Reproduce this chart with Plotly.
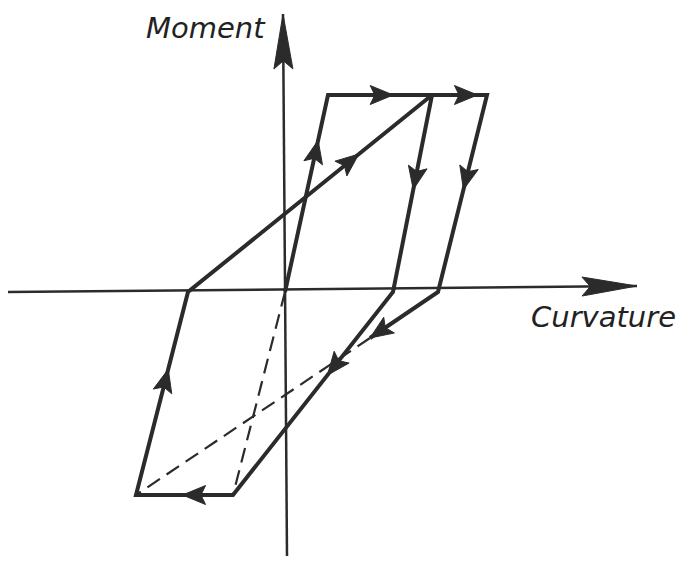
import numpy as np
import plotly.graph_objects as go

INK = "#2b2b2b"

# Loading branch: origin -> yield -> plastic plateau -> unload -> partial reversal
upper_kappa = [0.00, 0.43, 2.02, 1.53, 0.85]
upper_moment = [0.00, 1.97, 1.97, 0.00, -0.46]

# Full reversed cycle starting from the intermediate unloading point
lower_kappa = [1.47, 1.08, -0.52, -1.49, -0.97, 1.47]
lower_moment = [1.97, 0.00, -2.03, -2.03, 0.00, 1.97]

# Dashed guide paths
dash_a_kappa = [0.85, -1.49]
dash_a_moment = [-0.46, -2.03]
dash_b_kappa = [0.00, -0.52]
dash_b_moment = [0.00, -2.03]

# Direction arrows: (segment index, fraction along segment where the tip sits)
upper_arrows = [(0, 0.77), (1, 0.41), (1, 0.94), (2, 0.48), (3, 1.00)]
lower_arrows = [(0, 0.48), (1, 0.41), (2, 0.52), (3, 0.62), (4, 0.70)]

# Coordinate axes (slightly hand-drawn tilt)
haxis_kappa = [-2.77, 3.52]
haxis_moment = [0.00, 0.06]
vaxis_kappa = [0.02, -0.02]
vaxis_moment = [-2.64, 2.78]


def dart(tip, direction, length, width, notch_frac=0.8):
    d = np.asarray(direction, float)
    d = d / np.hypot(*d)
    n = np.array([-d[1], d[0]])
    tip = np.asarray(tip, float)
    base = tip - length * d
    notch = tip - notch_frac * length * d
    pts = [tip, base + n * width / 2, notch, base - n * width / 2, tip]
    xs, ys = zip(*pts)
    return list(xs), list(ys)


def arrow_on(kx, my, seg, t):
    p0 = np.array([kx[seg], my[seg]])
    p1 = np.array([kx[seg + 1], my[seg + 1]])
    tip = p0 + t * (p1 - p0)
    return dart(tip, p1 - p0, 0.23, 0.19)


fig = go.Figure()


def line(xs, ys, width, dash="solid"):
    fig.add_trace(go.Scatter(x=xs, y=ys, mode="lines",
                             line=dict(color=INK, width=width, dash=dash),
                             hoverinfo="skip", showlegend=False))


def poly(xs, ys):
    fig.add_trace(go.Scatter(x=xs, y=ys, mode="lines", fill="toself",
                             fillcolor=INK, line=dict(color=INK, width=1),
                             hoverinfo="skip", showlegend=False))


# axes
line(haxis_kappa, haxis_moment, 2.5)
line(vaxis_kappa, vaxis_moment, 2.5)
poly(*dart((haxis_kappa[1], haxis_moment[1]),
           (haxis_kappa[1] - haxis_kappa[0], haxis_moment[1] - haxis_moment[0]),
           0.55, 0.19, 0.85))
poly(*dart((vaxis_kappa[1], vaxis_moment[1]),
           (vaxis_kappa[1] - vaxis_kappa[0], vaxis_moment[1] - vaxis_moment[0]),
           0.55, 0.19, 0.85))

# dashed guides
line(dash_a_kappa, dash_a_moment, 2.2, dash="15px,8px")
line(dash_b_kappa, dash_b_moment, 2.2, dash="15px,8px")

# hysteresis branches
line(upper_kappa, upper_moment, 4)
line(lower_kappa, lower_moment, 4)

for seg, t in upper_arrows:
    poly(*arrow_on(upper_kappa, upper_moment, seg, t))
for seg, t in lower_arrows:
    poly(*arrow_on(lower_kappa, lower_moment, seg, t))

label_font = dict(family="DejaVu Sans", size=29, color="#222222")
fig.add_annotation(x=-0.79, y=2.64, text="<i>Moment</i>", showarrow=False,
                   font=label_font, xanchor="center", yanchor="middle")
fig.add_annotation(x=3.18, y=-0.25, text="<i>Curvature</i>", showarrow=False,
                   font=label_font, xanchor="center", yanchor="middle")

fig.update_layout(
    width=693, height=561, autosize=False,
    margin=dict(l=0, r=0, t=0, b=0),
    paper_bgcolor="white", plot_bgcolor="white",
    xaxis=dict(range=[-2.85, 4.08], visible=False, fixedrange=True),
    yaxis=dict(range=[-2.69, 2.92], visible=False, fixedrange=True),
)

fig.write_html("out.html")
